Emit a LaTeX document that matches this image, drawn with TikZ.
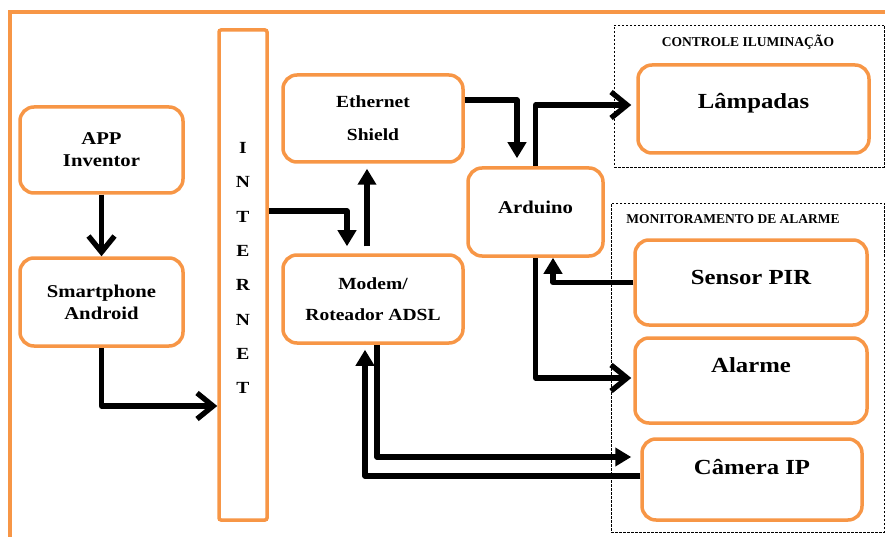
\documentclass[tikz,border=0pt]{standalone}
\usepackage{fontspec}
\setmainfont[FakeStretch=1.15]{Liberation Serif}
\newfontfamily\titlefont{Liberation Serif}
\usetikzlibrary{arrows.meta}
\definecolor{orng}{RGB}{247,150,70}
\begin{document}
\begin{tikzpicture}[x=1pt,y=-1pt,
  box/.style={draw=orng, line width=3.5pt, rounded corners=14pt, fill=white, align=center, inner sep=0pt,
    font=\fontsize{18}{22}\selectfont\bfseries},
  bigtxt/.style={font=\fontsize{21.5}{24}\selectfont\bfseries, inner sep=0pt},
  grp/.style={draw=black, line width=0.8pt, dash pattern=on 2.5pt off 1.5pt, inner sep=0pt},
  grptitle/.style={font=\titlefont\fontsize{13.5}{15}\selectfont\bfseries, inner sep=0pt},
  fa/.style={line width=5.3pt, line join=round, -{Triangle[length=16pt,width=18pt]}},
  oa/.style={line width=5.3pt, line join=round, -{Straight Barb[length=16pt,width=26pt]}}]
\useasboundingbox (0,0) rectangle (885,537);
% outer frame
\draw[orng, line width=4pt] (10,545) -- (10,12) -- (890,12);
% group boxes
\node[grp, minimum width=270pt, minimum height=142pt] (ctrl) at (749,96) {};
\node[grp, minimum width=273pt, minimum height=329pt] (mon) at (747.5,367.5) {};
\node[grptitle] (ctrlt) at (748,42) {CONTROLE ILUMINAÇÃO};
\node[grptitle] (mont) at (733,219) {MONITORAMENTO DE ALARME};
% boxes
\node[box, minimum width=163pt, minimum height=86pt] (app) at (101.5,150) {APP\\Inventor};
\node[box, minimum width=163pt, minimum height=88pt] (phone) at (101.5,302) {Smartphone\\Android};
\node[box, rounded corners=2pt, minimum width=48pt, minimum height=490pt] (inet) at (243,275) {};
\node[font=\fontsize{17}{34.3}\selectfont\bfseries, align=center, inner sep=0pt] (inett) at (243,268)
  {I\\N\\T\\E\\R\\N\\E\\T};
\node[box, font=\fontsize{17}{33}\selectfont\bfseries, minimum width=180pt, minimum height=87pt] (eth) at (373,118.5) {Ethernet\\Shield};
\node[box, font=\fontsize{17}{31}\selectfont\bfseries, minimum width=180pt, minimum height=88pt] (modem) at (373,299) {Modem/\\Roteador ADSL};
\node[box, minimum width=135pt, minimum height=88pt] (ard) at (535.5,212) {};
\node[font=\fontsize{18}{22}\selectfont\bfseries, inner sep=0pt] (ardt) at (535.5,207) {Arduino};
\node[box, minimum width=231pt, minimum height=88pt] (lamp) at (753.5,109) {};
\node[bigtxt] (lampt) at (753.5,103) {Lâmpadas};
\node[box, minimum width=232pt, minimum height=85pt] (pir) at (751,282.5) {};
\node[bigtxt] (pirt) at (751,277) {Sensor PIR};
\node[box, minimum width=232pt, minimum height=85pt] (alarm) at (751,380.5) {};
\node[bigtxt] (alarmt) at (751,365) {Alarme};
\node[box, minimum width=220pt, minimum height=81pt] (cam) at (752,479.5) {};
\node[bigtxt] (camt) at (752,467) {Câmera IP};
% connectors
\draw[oa] (app.south) -- (phone.north);
\draw[oa] (phone.south) |- ([yshift=-131pt]inet.west);
\draw[fa] ([yshift=64pt]inet.east) -| ([xshift=-26pt,yshift=7pt]modem.north);
\draw[fa] ([xshift=-6pt,yshift=7pt]modem.north) -- ([xshift=-6pt,yshift=-5pt]eth.south);
\draw[fa] ([yshift=18.5pt]eth.east) -| ([xshift=-18.5pt,yshift=8pt]ard.north);
\draw[oa] (ard.north) |- ([xshift=-5pt,yshift=4pt]lamp.west);
\draw[oa] (ard.south) |- ([xshift=-2pt,yshift=2.5pt]alarm.west);
\draw[fa] (pir.west) -| ([xshift=17.5pt]ard.south);
\draw[fa] ([xshift=4pt]modem.south) |- ([xshift=-9pt,yshift=22.5pt]cam.west);
\draw[fa] ([yshift=3.5pt]cam.west) -| ([xshift=-8pt,yshift=-5pt]modem.south);
\end{tikzpicture}
\end{document}
